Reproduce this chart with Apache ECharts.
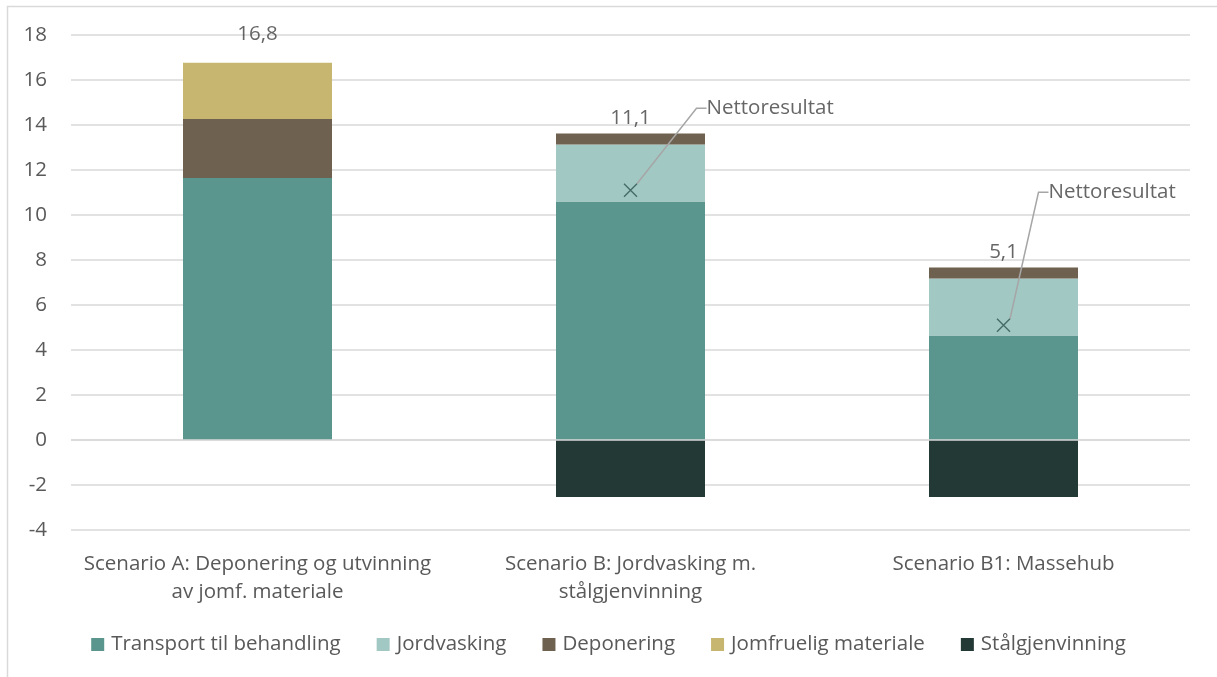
<!DOCTYPE html>
<html>
<head>
<meta charset="utf-8">
<script src="https://cdn.jsdelivr.net/npm/echarts@6/dist/echarts.min.js"></script>
<style>
  html, body { margin: 0; padding: 0; background: #fff; }
  #chart { width: 1217px; height: 677px; }
</style>
</head>
<body>
<div id="chart"></div>
<script>
// Scenario categories
const categories = [
  'Scenario A: Deponering og utvinning\nav jomf. materiale',
  'Scenario B: Jordvasking m.\nstålgjenvinning',
  'Scenario B1: Massehub'
];

// Stacked contributions per scenario
const transport   = [11.65, 10.6, 4.65];
const jordvasking = [0, 2.53, 2.53];
const deponering  = [2.62, 0.49, 0.49];
const jomfruelig  = [2.5, 0, 0];
const stal        = [0, -2.53, -2.53];

// Net result per scenario
const netto = [16.8, 11.1, 5.1];
const nettoLabel = ['16,8', '11,1', '5,1'];

// Y axis ticks
const yMin = -4, yMax = 18, yStep = 2;

const textColor = '#595959';
const fontFamily = '"Open Sans", sans-serif';
const fontSize = 20.5;

// Top of the positive stack, used to place the net value labels
const positiveTop = categories.map((_, i) =>
  transport[i] + jordvasking[i] + deponering[i] + jomfruelig[i]);

const barWidth = 149;

function barSeries(name, data, color) {
  return {
    name, type: 'bar', stack: 'total', data, barWidth,
    itemStyle: { color },
    emphasis: { disabled: true }
  };
}

const chart = echarts.init(document.getElementById('chart'), null, { renderer: 'canvas' });

chart.setOption({
  animation: false,
  textStyle: { fontFamily },
  grid: { left: 71, right: 27, top: 35, bottom: 147 },
  graphic: [{
    type: 'rect',
    shape: { x: 7.5, y: 6.5, width: 1230, height: 690 },
    style: { fill: 'none', stroke: '#d9d9d9', lineWidth: 1.5 },
    silent: true, z: -1
  }],
  legend: {
    bottom: 17,
    left: 'center',
    itemWidth: 13, itemHeight: 13, itemGap: 36,
    icon: 'rect',
    data: ['Transport til behandling', 'Jordvasking', 'Deponering', 'Jomfruelig materiale', 'Stålgjenvinning'],
    textStyle: { color: textColor, fontSize, fontFamily, padding: [0, 0, 0, 2] }
  },
  xAxis: {
    type: 'category',
    data: categories,
    axisLine: { show: false },
    axisTick: { show: false },
    axisLabel: { color: textColor, fontSize, lineHeight: 28, margin: 20, fontFamily, interval: 0 }
  },
  yAxis: {
    type: 'value',
    min: yMin, max: yMax, interval: yStep,
    axisLine: { show: false },
    axisTick: { show: false },
    splitLine: { lineStyle: { color: '#d9d9d9', width: 1.5 } },
    axisLabel: { color: textColor, fontSize, margin: 24, fontFamily }
  },
  series: [
    barSeries('Transport til behandling', transport, '#5A968E'),
    barSeries('Jordvasking', jordvasking, '#A2C8C3'),
    barSeries('Deponering', deponering, '#6F614F'),
    barSeries('Jomfruelig materiale', jomfruelig, '#C6B66F'),
    Object.assign(barSeries('Stålgjenvinning', stal, '#233935'), {
      markLine: {
        silent: true, symbol: 'none', label: { show: false },
        lineStyle: { color: '#d9d9d9', width: 1.5, type: 'solid' },
        data: [{ yAxis: 0 }]
      }
    }),
    {
      // net value labels above each stack
      name: 'sum', type: 'scatter', silent: true,
      data: positiveTop.map((v, i) => ({
        value: v,
        label: { distance: i === 0 ? 18 : 5 }
      })),
      symbolSize: 0,
      label: {
        show: true, position: 'top', color: '#404040', fontSize, fontFamily,
        formatter: p => nettoLabel[p.dataIndex]
      },
      z: 5
    },
    {
      // net result markers with callout
      name: 'Nettoresultat', type: 'scatter', silent: true,
      data: netto.map((v, i) => i === 0 ? { value: v, symbolSize: 0, label: { show: false } } : v),
      symbol: 'path://M0,0L10,10M10,0L0,10',
      symbolSize: 13,
      itemStyle: { color: 'none', borderColor: '#2E5550', borderWidth: 1.4 },
      label: {
        show: true, position: 'right', color: '#404040', fontSize, fontFamily,
        padding: [0, 0, 0, 9],
        formatter: 'Nettoresultat'
      },
      labelLayout: p => p.dataIndex === 1 ? { dx: 53, dy: -82 } : { dx: 22, dy: -133 },
      labelLine: { show: true, length2: 10, lineStyle: { color: '#a6a6a6', width: 1.5 } },
      z: 6
    }
  ]
});
</script>
</body>
</html>
